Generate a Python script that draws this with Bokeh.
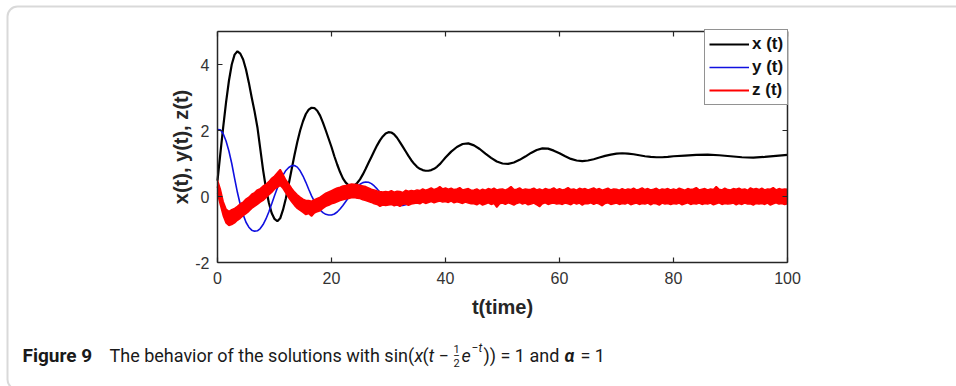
from bokeh.plotting import figure
from bokeh.models import (Legend, LegendItem, Label, BoxAnnotation, LinearAxis,
                          FixedTicker, ColumnDataSource, Range1d)
from bokeh.embed import file_html
from bokeh.resources import INLINE

# ---------------- data ----------------
t_xy = [0, 0.5, 1, 1.5, 2, 2.5, 3, 3.5, 4, 4.5, 5, 5.5, 6, 6.5, 7, 7.5, 8, 8.5, 9, 9.5,
        10, 10.5, 11, 11.5, 12, 12.5, 13, 13.5, 14, 14.5, 15, 15.5, 16, 16.5, 17, 17.5, 18, 18.5, 19, 19.5,
        20, 20.5, 21, 21.5, 22, 22.5, 23, 23.5, 24, 24.5, 25, 25.5, 26, 26.5, 27, 27.5, 28, 28.5, 29, 29.5,
        30, 30.5, 31, 31.5, 32, 32.5, 33, 33.5, 34, 34.5, 35, 35.5, 36, 36.5, 37, 37.5, 38, 38.5, 39, 39.5,
        40, 41, 42, 43, 44, 45, 46, 47, 48, 49, 50, 51, 52, 53, 54, 55, 56, 57, 58, 59, 60,
        61, 62, 63, 64, 65, 66, 67, 68, 69, 70, 71, 72, 73, 74, 75, 76, 77, 78, 79, 80,
        82, 84, 86, 88, 90, 92, 94, 96, 98, 100]

x_vals = [0.48, 1.3, 2.1, 2.85, 3.5, 4.0, 4.3, 4.4, 4.33, 4.15, 3.85, 3.45, 3.0, 2.58, 2.1, 1.45, 0.8, 0.25, -0.18, -0.5,
          -0.68, -0.75, -0.66, -0.4, -0.05, 0.38, 0.82, 1.25, 1.65, 2.0, 2.28, 2.5, 2.63, 2.69, 2.68, 2.6, 2.45, 2.24, 2.0, 1.75,
          1.5, 1.22, 0.97, 0.74, 0.55, 0.42, 0.34, 0.31, 0.33, 0.41, 0.52, 0.67, 0.84, 1.02, 1.2, 1.38, 1.55, 1.7, 1.82, 1.91,
          1.95, 1.94, 1.88, 1.78, 1.65, 1.51, 1.37, 1.23, 1.1, 0.99, 0.9, 0.84, 0.8, 0.78, 0.78, 0.8, 0.84, 0.9, 0.98, 1.08,
          1.18, 1.36, 1.5, 1.59, 1.61, 1.55, 1.44, 1.3, 1.17, 1.06, 1.0, 0.99, 1.03, 1.11, 1.21, 1.32, 1.41, 1.46, 1.45, 1.39, 1.31,
          1.22, 1.14, 1.09, 1.07, 1.09, 1.13, 1.18, 1.23, 1.27, 1.3, 1.31, 1.3, 1.28, 1.25, 1.22, 1.2, 1.19, 1.19, 1.2, 1.22,
          1.24, 1.26, 1.27, 1.25, 1.22, 1.19, 1.18, 1.2, 1.23, 1.26]

y_vals = [2.03, 2.02, 1.9, 1.68, 1.38, 1.0, 0.55, 0.12, -0.25, -0.55, -0.78, -0.93, -1.02, -1.05, -1.04, -0.97, -0.85, -0.68, -0.47, -0.23,
          0.02, 0.26, 0.47, 0.65, 0.79, 0.88, 0.93, 0.94, 0.89, 0.78, 0.62, 0.43, 0.22, 0.02, -0.15, -0.3, -0.41, -0.49, -0.54, -0.56,
          -0.56, -0.53, -0.47, -0.38, -0.27, -0.15, -0.03, 0.09, 0.2, 0.3, 0.37, 0.42, 0.44, 0.43, 0.39, 0.32, 0.23, 0.13, 0.03, -0.06,
          -0.14, -0.2, -0.24, -0.26, -0.27, -0.27, -0.25, -0.22, -0.18, -0.14, -0.1, -0.05, -0.01, 0.03, 0.06, 0.09, 0.11, 0.12, 0.12, 0.11,
          0.1, 0.07, 0.03, -0.01, -0.04, -0.06, -0.06, -0.05, -0.03, 0.0, 0.02, 0.03, 0.03, 0.02, 0.01, 0.0, -0.01, -0.02, -0.02, -0.01, 0.0,
          0.01, 0.01, 0.01, 0.0, 0.0, -0.01, -0.01, 0.0, 0.0, 0.01, 0.01, 0.0, 0.0, 0.0, -0.01, 0.0, 0.0, 0.0, 0.0, 0.0,
          0.0, 0.0, 0.0, 0.0, 0.0, 0.0, 0.0, 0.0, 0.0, 0.0]

t_z = [0, 0.5, 1, 1.5, 2, 2.5, 3, 3.5, 4, 4.5, 5, 5.5, 6, 6.5, 7, 7.5, 8, 8.5, 9, 9.5,
       10, 10.5, 11, 11.5, 12, 12.5, 13, 13.5, 14, 14.5, 15, 15.5, 16, 16.5, 17, 17.5, 18, 18.5, 19, 19.5,
       20, 20.5, 21, 21.5, 22, 22.5, 23, 23.5, 24, 24.5, 25, 25.5, 26, 26.5, 27, 27.5, 28, 28.5, 29, 29.5,
       30, 30.5, 31, 31.5, 32, 32.5, 33, 33.5, 34, 34.5, 35, 35.5, 36, 36.5, 37, 37.5, 38, 38.5, 39, 39.5,
       40, 40.5, 41, 41.5, 42, 42.5, 43, 43.5, 44, 44.5, 45, 45.5, 46, 46.5, 47, 47.5, 48, 48.5, 49, 49.5,
       50, 50.5, 51, 51.5, 52, 52.5, 53, 53.5, 54, 54.5, 55, 55.5, 56, 56.5, 57, 57.5, 58, 58.5, 59, 59.5,
       60, 60.5, 61, 61.5, 62, 62.5, 63, 63.5, 64, 64.5, 65, 65.5, 66, 66.5, 67, 67.5, 68, 68.5, 69, 69.5,
       70, 70.5, 71, 71.5, 72, 72.5, 73, 73.5, 74, 74.5, 75, 75.5, 76, 76.5, 77, 77.5, 78, 78.5, 79, 79.5,
       80, 80.5, 81, 81.5, 82, 82.5, 83, 83.5, 84, 84.5, 85, 85.5, 86, 86.5, 87, 87.5, 88, 88.5, 89, 89.5,
       90, 90.5, 91, 91.5, 92, 92.5, 93, 93.5, 94, 94.5, 95, 95.5, 96, 96.5, 97, 97.5, 98, 98.5, 99, 99.5, 100]

z_hi = [0.50, 0.22, -0.15, -0.38, -0.45, -0.40, -0.36, -0.30, -0.22, -0.17,
        -0.08, -0.02, 0.07, 0.12, 0.20, 0.24, 0.32, 0.37, 0.45, 0.55,
        0.62, 0.72, 0.82, 0.66, 0.50, 0.38, 0.25, 0.14, 0.05, -0.02,
        -0.08, -0.12, -0.12, -0.14, -0.10, -0.06, -0.02, 0.04, 0.10, 0.14,
        0.18, 0.22, 0.26, 0.28, 0.32, 0.33, 0.36, 0.38, 0.37, 0.36,
        0.34, 0.32, 0.30, 0.26, 0.22, 0.20, 0.17, 0.15, 0.14, 0.15,
        0.14, 0.18, 0.13, 0.16, 0.15, 0.12, 0.19, 0.16, 0.18, 0.17,
        0.20, 0.18, 0.23, 0.19, 0.22, 0.26, 0.21, 0.24, 0.30, 0.23,
        0.26, 0.22, 0.25, 0.21, 0.23, 0.27, 0.20, 0.22, 0.24, 0.19,
        0.20, 0.23, 0.18, 0.22, 0.19, 0.24, 0.21, 0.25, 0.20, 0.22,
        0.23, 0.19, 0.24, 0.30, 0.21, 0.22, 0.26, 0.20, 0.23, 0.21,
        0.22, 0.25, 0.20, 0.23, 0.19, 0.24, 0.21, 0.22, 0.26, 0.20,
        0.24, 0.20, 0.22, 0.27, 0.21, 0.23, 0.19, 0.25, 0.22, 0.24,
        0.20, 0.23, 0.26, 0.21, 0.24, 0.19, 0.22, 0.25, 0.20, 0.23,
        0.22, 0.19, 0.24, 0.20, 0.23, 0.21, 0.25, 0.20, 0.22, 0.26,
        0.21, 0.24, 0.20, 0.22, 0.25, 0.19, 0.23, 0.21, 0.24, 0.20,
        0.23, 0.20, 0.25, 0.22, 0.19, 0.24, 0.21, 0.23, 0.27, 0.20,
        0.22, 0.24, 0.20, 0.23, 0.21, 0.30, 0.22, 0.20, 0.25, 0.21,
        0.20, 0.24, 0.22, 0.25, 0.21, 0.23, 0.19, 0.26, 0.22, 0.24,
        0.21, 0.25, 0.20, 0.23, 0.22, 0.27, 0.20, 0.24, 0.21, 0.23, 0.22]

z_lo = [0.10, -0.25, -0.58, -0.80, -0.88, -0.85, -0.80, -0.72, -0.66, -0.58,
        -0.52, -0.45, -0.36, -0.30, -0.24, -0.17, -0.12, -0.04, 0.05, 0.12,
        0.22, 0.28, 0.34, 0.24, 0.10, -0.04, -0.16, -0.27, -0.36, -0.42,
        -0.48, -0.55, -0.52, -0.60, -0.50, -0.46, -0.43, -0.36, -0.30, -0.27,
        -0.22, -0.20, -0.16, -0.12, -0.10, -0.08, -0.06, -0.04, -0.03, -0.05,
        -0.06, -0.10, -0.12, -0.15, -0.18, -0.22, -0.24, -0.30, -0.26, -0.27,
        -0.26, -0.24, -0.28, -0.25, -0.30, -0.24, -0.22, -0.27, -0.23, -0.21,
        -0.20, -0.22, -0.17, -0.21, -0.18, -0.15, -0.19, -0.16, -0.14, -0.17,
        -0.15, -0.18, -0.14, -0.19, -0.16, -0.18, -0.21, -0.17, -0.20, -0.22,
        -0.22, -0.25, -0.20, -0.26, -0.23, -0.19, -0.24, -0.21, -0.33, -0.22,
        -0.20, -0.24, -0.19, -0.22, -0.26, -0.21, -0.18, -0.23, -0.20, -0.25,
        -0.23, -0.20, -0.25, -0.31, -0.22, -0.19, -0.24, -0.21, -0.20, -0.23,
        -0.21, -0.24, -0.20, -0.22, -0.25, -0.19, -0.23, -0.20, -0.26, -0.21,
        -0.22, -0.19, -0.24, -0.20, -0.23, -0.28, -0.21, -0.19, -0.24, -0.22,
        -0.20, -0.24, -0.21, -0.23, -0.19, -0.25, -0.22, -0.20, -0.24, -0.21,
        -0.23, -0.20, -0.25, -0.21, -0.22, -0.26, -0.20, -0.23, -0.21, -0.24,
        -0.21, -0.23, -0.20, -0.25, -0.22, -0.19, -0.24, -0.21, -0.23, -0.20,
        -0.24, -0.21, -0.23, -0.20, -0.25, -0.22, -0.19, -0.24, -0.21, -0.23,
        -0.22, -0.20, -0.25, -0.21, -0.24, -0.20, -0.23, -0.22, -0.26, -0.21,
        -0.23, -0.21, -0.24, -0.20, -0.26, -0.22, -0.19, -0.23, -0.21, -0.24, -0.22]

x_ticks = [0, 20, 40, 60, 80, 100]
y_ticks = [-2, 0, 2, 4]
x_lim = (0, 100)
y_lim = (-2, 5)
series_labels = ["x (t)", "y (t)", "z (t)"]
x_label = "t(time)"
y_label = "x(t), y(t), z(t)"

# ---------------- layout: the whole page is the frame ----------------
W, H = 956, 386
PL, PR, PT, PB = 217, 787, 31, 262          # plot box edges in page pixels
kx = (PR - PL) / (x_lim[1] - x_lim[0])
ky = (PB - PT) / (y_lim[1] - y_lim[0])

p = figure(width=W, height=H,
           x_range=Range1d(x_lim[0] - PL / kx, x_lim[1] + (W - PR) / kx),
           y_range=Range1d(y_lim[0] - (H - PB) / ky, y_lim[1] + PT / ky),
           x_axis_type=None, y_axis_type=None,
           output_backend="svg", toolbar_location=None,
           min_border=0, min_border_left=0, min_border_right=0,
           min_border_top=0, min_border_bottom=0)
p.grid.visible = False
p.outline_line_color = None
p.background_fill_color = "white"
p.border_fill_color = "white"

AX = "#262626"
TICK_FONT = "Liberation Sans"


def make_axis(ticks, loc, bounds, labelled):
    ax = LinearAxis(ticker=FixedTicker(ticks=ticks), fixed_location=loc, bounds=bounds,
                    axis_line_color=AX, axis_line_width=1.5,
                    major_tick_line_color=AX, major_tick_line_width=1.2,
                    major_tick_in=5, major_tick_out=0, minor_tick_line_color=None,
                    major_label_text_font=TICK_FONT, major_label_text_font_size="16px",
                    major_label_text_color="#333333" if labelled else None,
                    axis_label_text_font=TICK_FONT, axis_label_text_font_size="20px",
                    axis_label_text_font_style="bold", axis_label_text_color="#262626")
    return ax


xb = make_axis(x_ticks, y_lim[0], x_lim, True)
xb.axis_label = x_label
xb.major_label_standoff = 9
xb.axis_label_standoff = 9
yl = make_axis(y_ticks, x_lim[0], y_lim, True)
yl.axis_label = y_label
yl.major_label_overrides = {-2: "-2"}
yl.major_label_standoff = 8
yl.axis_label_standoff = 0
xt = make_axis(x_ticks, y_lim[1], x_lim, False)
yr = make_axis(y_ticks, x_lim[1], y_lim, False)
p.add_layout(xb, "below")
p.add_layout(yl, "left")
p.add_layout(xt, "above")
p.add_layout(yr, "right")

src_xy = ColumnDataSource(dict(t=t_xy, x=x_vals, y=y_vals))
src_z = ColumnDataSource(dict(t=t_z, hi=z_hi, lo=z_lo))

r_x = p.line("t", "x", source=src_xy, line_color="black", line_width=2.2)
r_y = p.line("t", "y", source=src_xy, line_color="#1010e0", line_width=1.6)
p.varea(x="t", y1="lo", y2="hi", source=src_z, fill_color="#ff0000")
p.line("t", "hi", source=src_z, line_color="#ff0000", line_width=1.5)
p.line("t", "lo", source=src_z, line_color="#ff0000", line_width=1.5)
r_z = p.line(x=list(t_z), y=[(a + b) / 2 for a, b in zip(z_hi, z_lo)],
             line_color="#ff0000", line_width=2)

LEG_W, LEG_H = 84, 74
legend = Legend(items=[LegendItem(label=series_labels[0], renderers=[r_x]),
                       LegendItem(label=series_labels[1], renderers=[r_y]),
                       LegendItem(label=series_labels[2], renderers=[r_z])],
                location=(PR + 1 - LEG_W, H - PT - LEG_H), margin=0, padding=4, spacing=3,
                glyph_width=40, glyph_height=20, label_height=20, label_standoff=3,
                label_text_font=TICK_FONT, label_text_font_style="bold",
                label_text_font_size="17px", label_text_color="#111111",
                border_line_color="#262626", border_line_width=1.5,
                background_fill_alpha=1.0)
p.add_layout(legend)

# ---------------- outer rounded box and caption (page pixels) ----------------
box = BoxAnnotation(left=7, right=W + 20, top=H - 6, bottom=-3,
                    left_units="screen", right_units="screen",
                    top_units="screen", bottom_units="screen",
                    fill_alpha=0, line_color="#808080", line_width=2,
                    border_radius=10, level="underlay")
p.add_layout(box)

CAP_FONT = "Roboto"
CY = 355


def cap(px, text, style="normal", size="18px", py=CY, align="left"):
    p.add_layout(Label(x=px, y=H - py, x_units="screen", y_units="screen", text=text,
                       text_font=CAP_FONT, text_font_style=style, text_font_size=size,
                       text_color="#1a1a1a", text_baseline="middle", text_align=align))


cap(22, "Figure 9", "bold", "19px")
cap(109, "The behavior of the solutions with sin(")
cap(414, "x", "italic")
cap(422, "(")
cap(428, "t", "italic")
cap(438, "\u2212")
cap(456, "1", size="11px", py=348, align="center")
cap(456, "\u2013", size="10px", py=355, align="center")
cap(456, "2", size="11px", py=362, align="center")
cap(461, "e", "italic")
cap(471, "\u2212", size="12px", py=347)
cap(478, "t", "italic", size="12px", py=347)
cap(483, ")) = 1 and")
cap(564, "\u03b1", "bold italic")
cap(580, "= 1")

open("out.html", "w").write(file_html(p, INLINE))
